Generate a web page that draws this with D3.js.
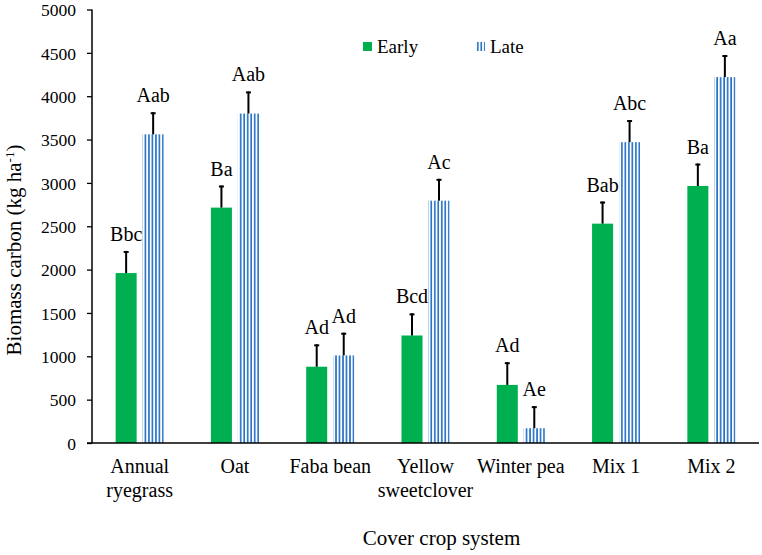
<!DOCTYPE html>
<html>
<head>
<meta charset="utf-8">
<script src="https://cdn.jsdelivr.net/npm/d3@7"></script>
<style>
  html, body { margin: 0; padding: 0; background: #fff; }
  svg { display: block; }
  text { font-family: "Liberation Serif", "Times New Roman", serif; fill: #000; }
</style>
</head>
<body>
<svg id="chart" width="762" height="555"></svg>
<script>
const categories = ["Annual ryegrass", "Oat", "Faba bean", "Yellow sweetclover", "Winter pea", "Mix 1", "Mix 2"];
const seriesNames = ["Early", "Late"];
const earlyValues = [1960, 2715, 880, 1240, 670, 2530, 2965];
const lateValues  = [3560, 3800, 1010, 2795, 170, 3470, 4220];
const earlyErrors = [255, 255, 258, 255, 262, 255, 258];
const lateErrors  = [255, 255, 262, 252, 255, 255, 255];
const earlyLetters = ["Bbc", "Ba", "Ad", "Bcd", "Ad", "Bab", "Ba"];
const lateLetters  = ["Aab", "Aab", "Ad", "Ac", "Ae", "Abc", "Aa"];
const yTicks = [0, 500, 1000, 1500, 2000, 2500, 3000, 3500, 4000, 4500, 5000];

const GREEN = "#00B050";
const BLUE = "#1F6FC4";

const svg = d3.select("#chart");
const defs = svg.append("defs");
const pat = defs.append("pattern")
  .attr("id", "stripes")
  .attr("patternUnits", "userSpaceOnUse")
  .attr("width", 3.5).attr("height", 10);
pat.append("rect").attr("width", 3.5).attr("height", 10).attr("fill", "#fff");
pat.append("rect").attr("x", 1).attr("width", 1.6).attr("height", 10).attr("fill", BLUE);

const plotLeft = 92, plotRight = 759, plotTop = 9.5, plotBottom = 443;

const x0 = d3.scaleBand().domain(categories).range([plotLeft, plotRight])
  .paddingInner(0.496).paddingOuter(0.248);
const x1 = d3.scaleBand().domain(seriesNames).range([0, x0.bandwidth()])
  .paddingInner(0.222).paddingOuter(0);
const y = d3.scaleLinear().domain([0, 5000]).range([plotBottom, plotTop]);

const rows = categories.map((c, i) => ({
  cat: c,
  vals: [
    { s: "Early", v: earlyValues[i], e: earlyErrors[i], l: earlyLetters[i] },
    { s: "Late",  v: lateValues[i],  e: lateErrors[i],  l: lateLetters[i] }
  ]
}));

// bars
const g = svg.append("g");
const groups = g.selectAll("g.cat").data(rows).join("g")
  .attr("class", "cat")
  .attr("transform", d => `translate(${x0(d.cat)},0)`);

groups.selectAll("rect").data(d => d.vals).join("rect")
  .attr("x", d => x1(d.s))
  .attr("y", d => y(d.v))
  .attr("width", x1.bandwidth())
  .attr("height", d => y(0) - y(d.v))
  .attr("fill", d => d.s === "Early" ? GREEN : "url(#stripes)");

// error bars
groups.selectAll("line.err").data(d => d.vals).join("line")
  .attr("class", "err")
  .attr("x1", d => x1(d.s) + x1.bandwidth() / 2)
  .attr("x2", d => x1(d.s) + x1.bandwidth() / 2)
  .attr("y1", d => y(d.v))
  .attr("y2", d => y(d.v + d.e))
  .attr("stroke", "#000").attr("stroke-width", 2);
groups.selectAll("line.cap").data(d => d.vals).join("line")
  .attr("class", "cap")
  .attr("x1", d => x1(d.s) + x1.bandwidth() / 2 - 2.5)
  .attr("x2", d => x1(d.s) + x1.bandwidth() / 2 + 2.5)
  .attr("y1", d => y(d.v + d.e) + 1)
  .attr("y2", d => y(d.v + d.e) + 1)
  .attr("stroke", "#000").attr("stroke-width", 2);

// letters
groups.selectAll("text.lbl").data(d => d.vals).join("text")
  .attr("class", "lbl")
  .attr("x", d => x1(d.s) + x1.bandwidth() / 2)
  .attr("y", d => y(d.v + d.e) - 10)
  .attr("text-anchor", "middle")
  .style("font-size", "20px")
  .text(d => d.l);

// y axis
const yAxis = svg.append("g")
  .attr("transform", `translate(${plotLeft},0)`)
  .call(d3.axisLeft(y).tickValues(yTicks).tickSize(5).tickPadding(11).tickFormat(d3.format("d")));
yAxis.select(".domain").attr("stroke", "#000").attr("stroke-width", 1.5).attr("d", `M0,${plotTop}V${plotBottom}`);
yAxis.selectAll(".tick line").attr("stroke", "#000").attr("stroke-width", 1.3);
yAxis.selectAll(".tick text")
  .attr("dy", "0.36em")
  .style("font-size", "17.5px").style("font-family", "Liberation Serif");

// x axis
const xAxis = svg.append("g")
  .attr("transform", `translate(0,${plotBottom})`)
  .call(d3.axisBottom(x0).tickSize(0).tickPadding(0));
xAxis.select(".domain").attr("stroke", "#000").attr("stroke-width", 1.5).attr("d", `M${plotLeft - 5},0H${plotRight}`);
xAxis.selectAll(".tick text").each(function(d) {
  const t = d3.select(this);
  t.text(null).attr("y", 0).attr("dy", null)
    .style("font-size", "20px").style("font-family", "Liberation Serif");
  const words = d.length > 12 ? d.split(" ") : [d];
  words.forEach((w, i) => {
    t.append("tspan").attr("x", 0).attr("y", 30 + i * 24).text(w);
  });
});

// axis titles
const yt = svg.append("text")
  .attr("transform", `translate(21,250) rotate(-90)`)
  .attr("text-anchor", "middle")
  .style("font-size", "21px");
yt.append("tspan").text("Biomass carbon (kg ha");
yt.append("tspan").attr("dy", -7).style("font-size", "13px").text("-1");
yt.append("tspan").attr("dy", 7).text(")");

svg.append("text")
  .attr("x", 441.5).attr("y", 545)
  .attr("text-anchor", "middle")
  .style("font-size", "21px")
  .text("Cover crop system");

// legend
const legend = svg.append("g");
const legItems = [
  { name: seriesNames[0], x: 363, fill: GREEN },
  { name: seriesNames[1], x: 476, fill: "url(#stripes)" }
];
legItems.forEach(it => {
  legend.append("rect").attr("x", it.x).attr("y", 42).attr("width", 9).attr("height", 9).attr("fill", it.fill);
  legend.append("text").attr("x", it.x + 14).attr("y", 52.5).style("font-size", "19px").text(it.name);
});
</script>
</body>
</html>
